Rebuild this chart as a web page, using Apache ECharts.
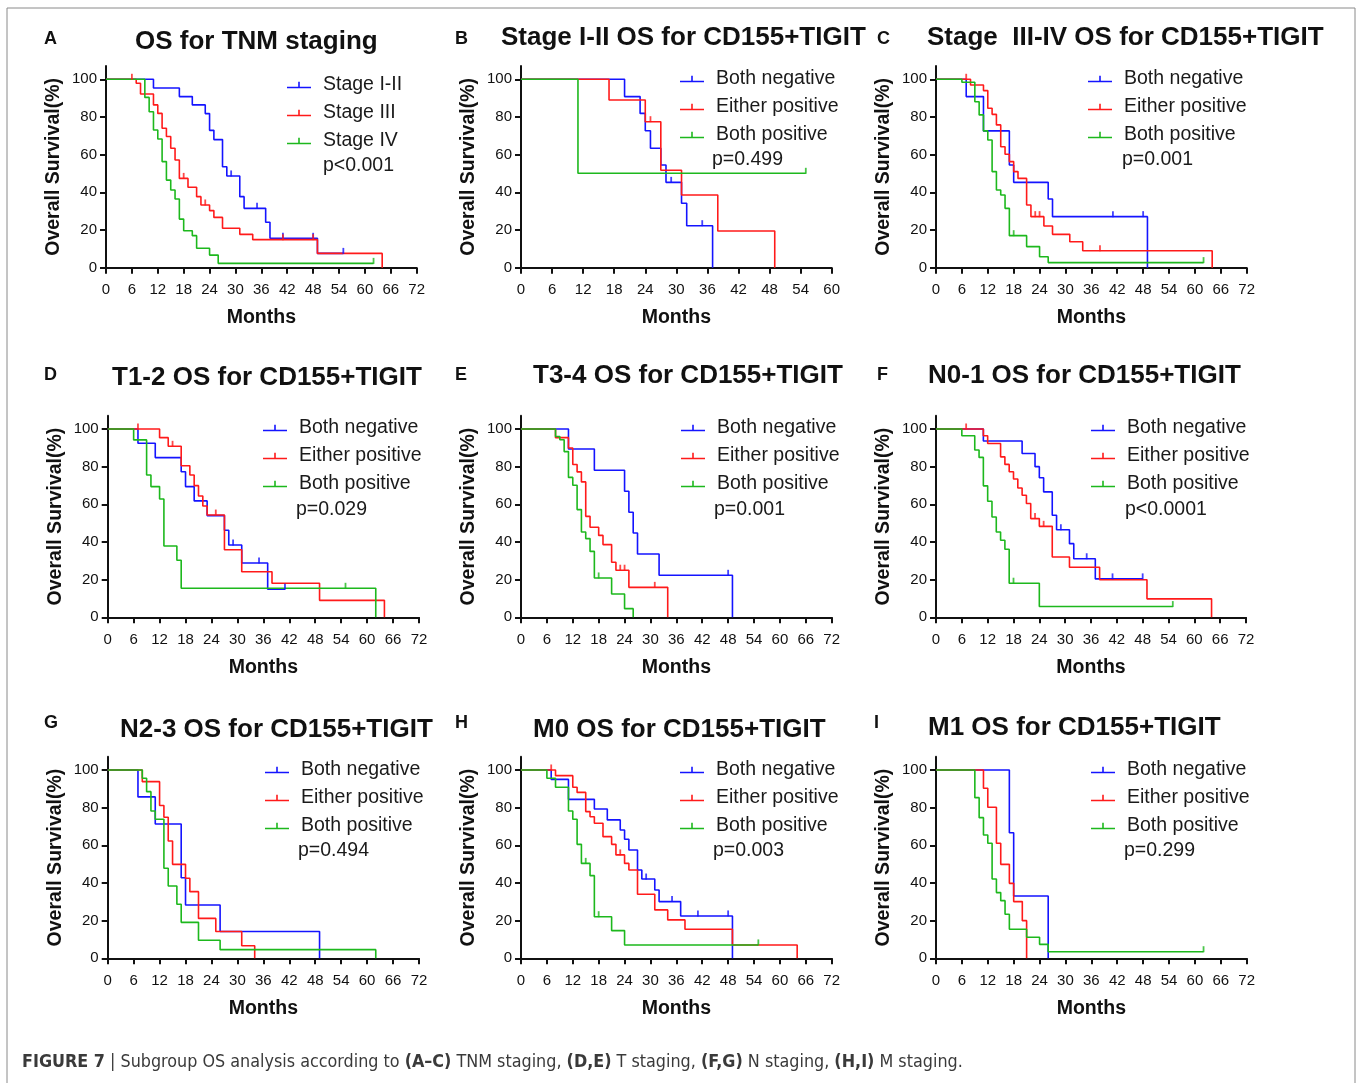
<!DOCTYPE html>
<html>
<head>
<meta charset="utf-8">
<script src="https://cdn.jsdelivr.net/npm/echarts@6/dist/echarts.min.js"></script>
<style>html,body{margin:0;padding:0;background:#fff}#c{width:1358px;height:1083px}</style>
</head>
<body>
<div id="c"></div>
<script>
// ---------------- DATA (months, overall survival %) ----------------
const yTicks = [0, 20, 40, 60, 80, 100];
const groupNames = ['Both negative', 'Either positive', 'Both positive'];
const stageNames = ['Stage I-II', 'Stage III', 'Stage IV'];

// A: OS for TNM staging
const A_s12 = [[0,100],[11,95.4],[17,90.8],[20,86.4],[23,81.8],[24,72.9],[25,68],[27,53.6],[28,48.7],[31,37.7],[32,31.5],[37,24.1],[38,15.6],[49,7.6],[55,7.6]];
const A_s12_c = [[29,48.7],[35,31.5],[41,15.6],[48,15.6],[55,7.6]];
const A_s3 = [[0,100],[7,97.9],[8,92.2],[11,86.4],[12,81.9],[13,74],[14,69.6],[15,63.4],[16,57.2],[17,47.4],[19,42.7],[21,37.7],[22,33.3],[24,30.3],[25,26.7],[27,20.9],[31,17.7],[34,14.9],[49,7.6],[64,0]];
const A_s3_c = [[6,100],[18,47.4],[23,33.3],[41,14.9],[48,14.9]];
const A_s4 = [[0,100],[9,90.4],[10,82.8],[11,73.1],[12,68.3],[13,56.3],[14,46.5],[15,41.2],[16,36.5],[17,25.8],[18,19.6],[20,17],[21,10.3],[24,6.7],[26,2.3],[62,2.3]];
const A_s4_c = [[62,2.3]];

// B: Stage I-II
const B_neg = [[0,100],[20,90.8],[23,81.9],[24,72.7],[25,63.4],[27,54.5],[28,45.3],[31,34.2],[32,22.3],[37,0]];
const B_neg_c = [[29,45.3],[35,22.3]];
const B_eit = [[0,100],[17,89],[24,77.5],[27,51.7],[31,38.6],[38,19.5],[49,0]];
const B_eit_c = [[25,77.5]];
const B_pos = [[0,100],[11,50.1],[55,50.1]];
const B_pos_c = [[55,50.1]];

// C: Stage III-IV
const C_neg = [[0,100],[7,90.8],[11,72.6],[17,54.5],[18,45.3],[26,36.5],[27,27.1],[49,0]];
const C_neg_c = [[41,27.1],[48,27.1]];
const C_eit = [[0,100],[8,97],[11,94],[12,84.6],[13,81.4],[14,75.8],[15,64.2],[16,60.2],[17,56.3],[18,51],[19,47.4],[21,33.3],[22,27.1],[25,22.1],[27,17.7],[31,13.8],[34,9],[64,0]];
const C_eit_c = [[7,100],[23,27.1],[24,27.1],[38,9]];
const C_pos = [[0,100],[6,98.4],[9,88.1],[10,81.1],[11,72.6],[12,67.8],[13,51],[14,41.2],[15,38.6],[16,31.5],[17,17],[21,11.2],[24,5.8],[26,2.7],[62,2.7]];
const C_pos_c = [[18,17],[62,2.7]];

// D: T1-2
const D_neg = [[0,100],[7,92.4],[11,84.8],[17,77.3],[18,69.4],[20,61.8],[23,54],[27,46.2],[28,38.4],[31,28.8],[37,14.9],[41,14.9]];
const D_neg_c = [[29,38.4],[35,28.8],[41,14.9]];
const D_eit = [[0,100],[12,95.4],[14,90.8],[17,80.5],[19,75.6],[20,69.9],[21,64.4],[22,59.1],[23,54.3],[27,35.9],[31,24.2],[38,18.1],[49,9],[64,0]];
const D_eit_c = [[7,100],[15,90.8],[25,54.3]];
const D_pos = [[0,100],[6,94.2],[9,75.6],[10,69.4],[12,62.8],[13,37.9],[16,30.3],[17,15.4],[62,0]];
const D_pos_c = [[55,15.4]];

// E: T3-4
const E_neg = [[0,100],[11,89.4],[17,78.1],[24,66.9],[25,55.8],[26,44.8],[27,33.6],[32,22.3],[49,0]];
const E_neg_c = [[48,22.3]];
const E_eit = [[0,100],[8,95.4],[11,89.9],[12,81.1],[13,77.2],[14,71.9],[15,53.6],[16,47.8],[18,43.5],[19,38.6],[21,29.2],[22,25],[25,15.9],[34,0]];
const E_eit_c = [[23,25],[24,25],[31,15.9]];
const E_pos = [[0,100],[8,96],[9,94.3],[10,88],[11,74.3],[12,70.1],[13,57.2],[14,45.3],[15,41.8],[16,35],[17,20.9],[21,12.4],[24,4.6],[26,0]];
const E_pos_c = [[18,20.9]];

// F: N0-1
const F_neg = [[0,100],[11,93.6],[20,87],[23,80],[24,74.1],[25,66.6],[27,54.2],[28,46.5],[31,39.1],[32,31.1],[37,20.4],[48,20.4]];
const F_neg_c = [[29,46.5],[35,31.1],[41,20.4],[48,20.4]];
const F_eit = [[0,100],[11,96.4],[12,92.3],[15,85.2],[16,81.2],[17,77.3],[18,73.4],[19,68.7],[20,64.8],[21,60.4],[22,52.4],[24,48.3],[27,32],[31,26.6],[38,19.9],[49,9.8],[64,0]];
const F_eit_c = [[7,100],[23,52.4],[25,48.3]];
const F_pos = [[0,100],[6,96.4],[9,88.8],[10,84.9],[11,69.8],[12,61.6],[13,53.3],[14,45.3],[15,40.9],[16,36.1],[17,18.1],[24,5.7],[55,5.7]];
const F_pos_c = [[18,18.1],[55,5.7]];

// G: N2-3
const G_neg = [[0,100],[7,85.7],[11,71.3],[17,42.8],[18,28.3],[26,14.2],[49,0]];
const G_eit = [[0,100],[8,93.8],[12,81.1],[13,74.9],[14,62.3],[15,49.9],[18,42.5],[19,35.4],[21,21.2],[25,14.2],[31,6.7],[34,0]];
const G_pos = [[0,100],[8,95.6],[9,88.5],[10,78.2],[11,73.8],[13,47.8],[14,38.4],[16,28.7],[17,19.1],[21,9.6],[26,4.6],[62,0]];

// H: M0
const H_neg = [[0,100],[7,95],[11,84.4],[17,79.3],[20,73.5],[23,68.1],[24,63.2],[25,57.5],[27,46.9],[28,42.1],[31,36.3],[32,30.1],[37,22.5],[49,0]];
const H_neg_c = [[29,42.1],[35,30.1],[41,22.5],[48,22.5]];
const H_eit = [[0,100],[8,97],[12,90.8],[13,88.1],[15,77.9],[16,75.2],[17,71.7],[19,64.6],[21,60.5],[22,54.9],[24,50.4],[25,46.9],[27,34],[31,25.7],[34,20.4],[38,15.4],[49,7.1],[64,0]];
const H_eit_c = [[7,100],[23,54.9]];
const H_pos = [[0,100],[6,95.6],[8,90.8],[11,78.2],[12,73.8],[13,60.5],[14,50.4],[16,43.9],[17,22.1],[21,14.7],[24,7.1],[55,7.1]];
const H_pos_c = [[15,50.4],[18,22.1],[55,7.1]];

// I: M1
const I_neg = [[0,100],[17,66.7],[18,33.1],[26,0]];
const I_eit = [[0,100],[11,90.3],[12,80.2],[14,61.1],[15,49.9],[17,39.8],[18,30.1],[20,20],[21,0]];
const I_pos = [[0,100],[9,85.3],[10,74.7],[11,65.5],[12,61.1],[13,42.1],[14,34.9],[15,30.6],[16,23.4],[17,15.4],[21,11.2],[24,7.4],[26,3.5],[62,3.5]];
const I_pos_c = [[62,3.5]];

const panelLetters = ['A','B','C','D','E','F','G','H','I'];
const panelTitles = ['OS for TNM staging','Stage I-II OS for CD155+TIGIT','Stage  III-IV OS for CD155+TIGIT',
  'T1-2 OS for CD155+TIGIT','T3-4 OS for CD155+TIGIT','N0-1 OS for CD155+TIGIT',
  'N2-3 OS for CD155+TIGIT','M0 OS for CD155+TIGIT','M1 OS for CD155+TIGIT'];
const pValues = ['p<0.001','p=0.499','p=0.001','p=0.029','p=0.001','p<0.0001','p=0.494','p=0.003','p=0.299'];
const xMaxes = [72,60,72,72,72,72,72,72,72];
const curves = [
  [A_s12,A_s3,A_s4],[B_neg,B_eit,B_pos],[C_neg,C_eit,C_pos],
  [D_neg,D_eit,D_pos],[E_neg,E_eit,E_pos],[F_neg,F_eit,F_pos],
  [G_neg,G_eit,G_pos],[H_neg,H_eit,H_pos],[I_neg,I_eit,I_pos]];
const censors = [
  [A_s12_c,A_s3_c,A_s4_c],[B_neg_c,B_eit_c,B_pos_c],[C_neg_c,C_eit_c,C_pos_c],
  [D_neg_c,D_eit_c,D_pos_c],[E_neg_c,E_eit_c,E_pos_c],[F_neg_c,F_eit_c,F_pos_c],
  [[],[],[]],[H_neg_c,H_eit_c,H_pos_c],[[],[],I_pos_c]];

// ---------------- LAYOUT ----------------
const colors = ['#1414ff','#ff1a1a','#1db81d'];
const grids = [ // left, top, width, height
  [106,66.1,310.7,201.6],[521,66.1,310.7,201.6],[936,66.1,310.7,201.6],
  [107.7,415.8,311.3,201.5],[521,415.8,310.7,201.5],[936,415.8,310,201.5],
  [107.7,756.8,311.3,201.5],[521,756.8,310.7,201.5],[936,756.8,310.7,201.5]];
const titlePos = [[135,29],[501,25],[927,25],[112,365],[533,363],[928,363],[120,717],[533,717],[928,715]];
const letterPos = [[44,30],[455,30],[877,30],[44,366],[455,366],[877,366],[44,714],[455,714],[874,714]];
const legendPos = [[287,75],[680,69],[1088,69],[263,418],[681,418],[1091,418],[265,760],[680,760],[1091,760]];
const pPos = [[323,156],[712,150],[1122,150],[296,500],[714,500],[1125,500],[298,841],[713,841],[1124,841]];

const FONT = 'Arial, "Liberation Sans", Helvetica, sans-serif';
const legendIcon = 'path://M0,5L24,5L24,6.6L0,6.6Z M11.2,0L12.8,0L12.8,5L11.2,5Z';

const option = {
  animation: false,
  textStyle: {fontFamily: FONT},
  grid: [], xAxis: [], yAxis: [], series: [], legend: [], title: [],
  graphic: [
    {type:'rect', shape:{x:7, y:8, width:1348, height:1100}, style:{fill:'none', stroke:'#8a8a8a', lineWidth:1}, silent:true},
    {type:'text', left:22, top:1053, silent:true,
     style:{text:'{b|FIGURE 7} | Subgroup OS analysis according to {b|(A–C)} TNM staging, {b|(D,E)} T staging, {b|(F,G)} N staging, {b|(H,I)} M staging.',
       fontFamily:'"Liberation Sans Narrow", "DejaVu Sans Condensed", Arial, sans-serif', fontSize:17.8, fill:'#3a3a3a',
       rich:{b:{fontWeight:'bold', fontSize:17.8, fill:'#3a3a3a', fontFamily:'"Liberation Sans Narrow", "DejaVu Sans Condensed", Arial, sans-serif'}}}}
  ]
};

for (let i = 0; i < 9; i++) {
  const g = grids[i];
  option.grid.push({left:g[0], top:g[1], width:g[2], height:g[3], containLabel:false});
  option.xAxis.push({
    type:'value', gridIndex:i, min:0, max:xMaxes[i], interval:6,
    name:'Months', nameLocation:'middle', nameGap:40,
    nameTextStyle:{fontSize:19.5, fontWeight:'bold', color:'#111', fontFamily:FONT},
    axisLine:{show:true, onZero:false, lineStyle:{color:'#111', width:2}},
    axisTick:{show:true, length:6, lineStyle:{color:'#111', width:2}},
    axisLabel:{fontSize:15, color:'#111', margin:15, fontFamily:FONT},
    splitLine:{show:false}
  });
  option.yAxis.push({
    type:'value', gridIndex:i, min:0, max:107, interval:20,
    name:'Overall Survival(%)', nameLocation:'middle', nameGap:42, nameRotate:90,
    nameTextStyle:{fontSize:19.5, fontWeight:'bold', color:'#111', fontFamily:FONT},
    axisLine:{show:true, onZero:false, lineStyle:{color:'#111', width:2}},
    axisTick:{show:true, length:6, customValues:yTicks, lineStyle:{color:'#111', width:2}},
    axisLabel:{fontSize:15, color:'#111', margin:9, customValues:yTicks, fontFamily:FONT},
    splitLine:{show:false}
  });
  const names = i === 0 ? stageNames : groupNames;
  for (let j = 0; j < 3; j++) {
    option.series.push({
      type:'line', name:names[j], xAxisIndex:i, yAxisIndex:i, data:curves[i][j],
      step:'end', showSymbol:false, symbol:'none', silent:true,
      lineStyle:{color:colors[j], width:1.6}, itemStyle:{color:colors[j]}, z:3
    });
    if (censors[i][j].length) {
      option.series.push({
        type:'scatter', name:'censor', xAxisIndex:i, yAxisIndex:i, data:censors[i][j],
        symbol:'rect', symbolSize:[1.8,6], symbolOffset:[0,-2.5], silent:true,
        itemStyle:{color:colors[j]}, z:4
      });
    }
  }
  option.legend.push({
    orient:'vertical', left:legendPos[i][0], top:legendPos[i][1], padding:0,
    itemWidth:24, itemHeight:6.6, itemGap:8, icon:legendIcon, selectedMode:false,
    data:names,
    textStyle:{fontSize:19.5, color:'#1a1a1a', lineHeight:20, padding:[0,0,0,7], fontFamily:FONT}
  });
  option.title.push({
    text:panelTitles[i], left:titlePos[i][0], top:titlePos[i][1], padding:0,
    textStyle:{fontSize:26, fontWeight:'bold', color:'#111', lineHeight:26, fontFamily:FONT}
  });
  option.title.push({
    text:panelLetters[i], left:letterPos[i][0], top:letterPos[i][1], padding:0,
    textStyle:{fontSize:18, fontWeight:'bold', color:'#111', lineHeight:18, fontFamily:FONT}
  });
  option.title.push({
    text:pValues[i], left:pPos[i][0], top:pPos[i][1], padding:0,
    textStyle:{fontSize:19.5, fontWeight:'normal', color:'#1a1a1a', lineHeight:20, fontFamily:FONT}
  });
}

const chart = echarts.init(document.getElementById('c'), null, {renderer:'canvas', width:1358, height:1083});
chart.setOption(option);
</script>
</body>
</html>
